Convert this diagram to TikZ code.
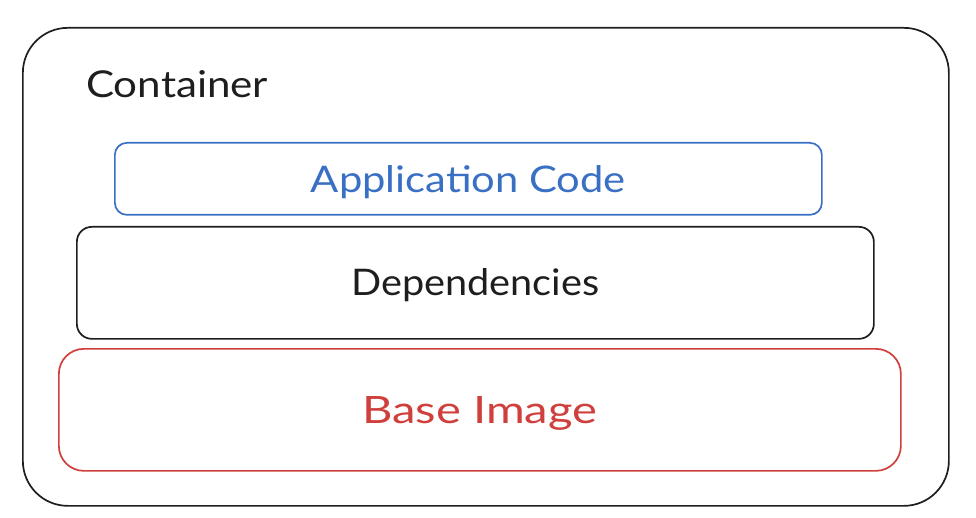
\documentclass[tikz,border=0pt]{standalone}
\usepackage{fontspec}
\setmainfont{Lato}
\definecolor{xblue}{HTML}{3A70C4}
\definecolor{xred}{HTML}{CF403C}
\definecolor{xblack}{HTML}{1E1E1E}
\newcommand{\wtext}[2]{\resizebox{#1pt}{27pt}{#2}}
\begin{document}
\begin{tikzpicture}[x=1pt,y=-1pt,
  layer/.style={draw, line width=1.7pt, inner sep=0pt, anchor=north west, font=\fontsize{37}{40}\selectfont},
  lbl/.style={inner sep=0pt, font=\fontsize{37}{40}\selectfont},
]
\useasboundingbox (0,0) rectangle (976,518);
\node[layer, draw=xblack, rounded corners=45pt, minimum width=926pt, minimum height=478pt] (container) at (22,27) {};
\node[lbl, anchor=west, text=xblack] (clabel) at (86,84) {\wtext{182}{Container}};
\node[layer, draw=xblue, rounded corners=12pt, minimum width=707pt, minimum height=72pt] (app) at (114,142) {};
\node[lbl, text=xblue] (applabel) at ([yshift=-3pt]app.center) {\wtext{315}{Application Code}};
\node[layer, draw=xblack, rounded corners=15pt, minimum width=797pt, minimum height=112pt] (deps) at (76,226) {};
\node[lbl, text=xblack] (depslabel) at ([yshift=-2pt]deps.center) {\wtext{248}{Dependencies}};
\node[layer, draw=xred, rounded corners=25pt, minimum width=842pt, minimum height=122pt] (base) at (58,348) {};
\node[lbl, text=xred] (baselabel) at ([yshift=-4pt]base.center) {\wtext{235}{Base Image}};
\end{tikzpicture}
\end{document}
